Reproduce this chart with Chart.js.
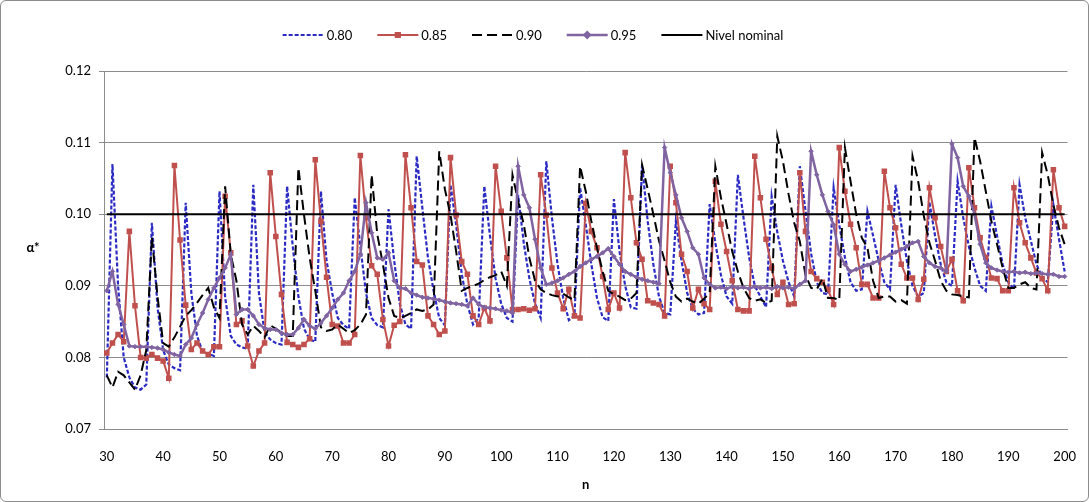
<!DOCTYPE html>
<html>
<head>
<meta charset="utf-8">
<script src="https://cdn.jsdelivr.net/npm/chart.js@4.4.1/dist/chart.umd.min.js"></script>
<style>
  html, body { margin: 0; padding: 0; background: #fff; }
  #frame { position: absolute; left: 0; top: 0; width: 1087px; height: 500px; border: 1px solid #8c8c8c; border-radius: 6px; overflow: hidden; }
  canvas { display: block; }
</style>
</head>
<body>
<div id="frame"><canvas id="chart" width="1087" height="500"></canvas></div>
<script>
  // sample sizes on the category axis
  var nFirst = 30, nLast = 200;
  var nValues = [];
  for (var n = nFirst; n <= nLast; n++) nValues.push(String(n));

  // actual level alpha* per n, one row per ten values of n (30-39, 40-49, ...)
  var alpha080 = [
    0.0772, 0.1070, 0.0900, 0.0800, 0.0772, 0.0758, 0.0755, 0.0762, 0.0988, 0.0870,
    0.0810, 0.0790, 0.0785, 0.0782, 0.1016, 0.0890, 0.0830, 0.0808, 0.0805, 0.0802,
    0.1032, 0.0884, 0.0830, 0.0818, 0.0814, 0.0812, 0.1041, 0.0890, 0.0835, 0.0825,
    0.0820, 0.0818, 0.1039, 0.0955, 0.0885, 0.0840, 0.0825, 0.0822, 0.1032, 0.0935,
    0.0890, 0.0855, 0.0845, 0.0840, 0.1023, 0.0955, 0.0890, 0.0855, 0.0845, 0.0842,
    0.1007, 0.0935, 0.0875, 0.0846, 0.0840, 0.1081, 0.1009, 0.0939, 0.0893, 0.0855,
    0.0845, 0.1041, 0.0985, 0.0916, 0.0874, 0.0846, 0.0855, 0.1039, 0.0970, 0.0910,
    0.0875, 0.0855, 0.0850, 0.1027, 0.0960, 0.0910, 0.0875, 0.0855, 0.1074, 0.0995,
    0.0930, 0.0883, 0.0852, 0.0858, 0.1037, 0.0986, 0.0930, 0.0883, 0.0856, 0.0851,
    0.1021, 0.0948, 0.0900, 0.0870, 0.0868, 0.1069, 0.0990, 0.0930, 0.0885, 0.0862,
    0.0860, 0.0990, 0.0935, 0.0890, 0.0868, 0.0860, 0.0862, 0.1014, 0.0960, 0.0915,
    0.0885, 0.0875, 0.1055, 0.0995, 0.0940, 0.0900, 0.0885, 0.0870, 0.1025, 0.0975,
    0.0935, 0.0905, 0.0885, 0.1067, 0.1005, 0.0945, 0.0905, 0.0890, 0.0888, 0.1037,
    0.0985, 0.0940, 0.0905, 0.0893, 0.0895, 0.1004, 0.0970, 0.0935, 0.0905, 0.0895,
    0.1041, 0.0985, 0.0935, 0.0900, 0.0885, 0.0890, 0.1017, 0.0970, 0.0930, 0.0905,
    0.0900, 0.1046, 0.0995, 0.0955, 0.0925, 0.0900, 0.0893, 0.1011, 0.0970, 0.0930,
    0.0905, 0.0895, 0.1041, 0.0995, 0.0963, 0.0930, 0.0912, 0.0905, 0.1013, 0.0965,
    0.0920
  ];

  var alpha085 = [
    0.0806, 0.0820, 0.0832, 0.0822, 0.0976, 0.0872, 0.0800, 0.0799, 0.0804, 0.0799,
    0.0795, 0.0771, 0.1068, 0.0964, 0.0873, 0.0811, 0.0820, 0.0809, 0.0804, 0.0815,
    0.0815, 0.1025, 0.0946, 0.0846, 0.0851, 0.0816, 0.0788, 0.0809, 0.0820, 0.1058,
    0.0969, 0.0888, 0.0821, 0.0818, 0.0814, 0.0818, 0.0826, 0.1076, 0.0990, 0.0912,
    0.0846, 0.0844, 0.0820, 0.0820, 0.0832, 0.1082, 0.0995, 0.0928, 0.0916, 0.0853,
    0.0816, 0.0845, 0.0850, 0.1083, 0.1009, 0.0934, 0.0929, 0.0858, 0.0846, 0.0832,
    0.0837, 0.1079, 0.0999, 0.0934, 0.0916, 0.0858, 0.0846, 0.0869, 0.0851, 0.1067,
    0.1004, 0.0939, 0.0867, 0.0867, 0.0868, 0.0866, 0.0868, 0.1055, 0.0999, 0.0925,
    0.0890, 0.0868, 0.0895, 0.0858, 0.0855, 0.1015, 0.0976, 0.0953, 0.0913, 0.0867,
    0.0890, 0.0869, 0.1086, 0.1023, 0.0960, 0.0937, 0.0879, 0.0876, 0.0874, 0.0858,
    0.1067, 0.1016, 0.0944, 0.0920, 0.0869, 0.0895, 0.0875, 0.0867, 0.1046, 0.0986,
    0.0948, 0.0907, 0.0867, 0.0865, 0.0865, 0.1081, 0.1023, 0.0965, 0.0925, 0.0888,
    0.0905, 0.0874, 0.0875, 0.1058, 0.0976, 0.0920, 0.0910, 0.0905, 0.0895, 0.0874,
    0.1093, 0.1032, 0.0986, 0.0953, 0.0902, 0.0902, 0.0883, 0.0883, 0.1060, 0.1009,
    0.0981, 0.0930, 0.0911, 0.0911, 0.0881, 0.0909, 0.1037, 0.0995, 0.0955, 0.0920,
    0.0937, 0.0893, 0.0879, 0.1065, 0.1009, 0.0967, 0.0940, 0.0911, 0.0910, 0.0893,
    0.0893, 0.1037, 0.0988, 0.0960, 0.0939, 0.0918, 0.0910, 0.0893, 0.1062, 0.1009,
    0.0983
  ];

  var alpha090 = [
    0.0775, 0.0758, 0.0780, 0.0775, 0.0765, 0.0755, 0.0775, 0.0810, 0.0968, 0.0885,
    0.0820, 0.0815, 0.0828, 0.0843, 0.0858, 0.0866, 0.0876, 0.0887, 0.0897, 0.0870,
    0.0855, 0.1039, 0.0944, 0.0907, 0.0846, 0.0832, 0.0844, 0.0837, 0.0828, 0.0845,
    0.0840, 0.0835, 0.0830, 0.0830, 0.1065, 0.0999, 0.0939, 0.0893, 0.0842, 0.0837,
    0.0839, 0.0846, 0.0840, 0.0834, 0.0838, 0.0846, 0.0860, 0.1055, 0.0972, 0.0930,
    0.0883, 0.0858, 0.0855, 0.0858, 0.0862, 0.0867, 0.0865, 0.0867, 0.0874, 0.1088,
    0.1035, 0.0999, 0.0948, 0.0893, 0.0897, 0.0900, 0.0903, 0.0908, 0.0912, 0.0915,
    0.0920, 0.0900, 0.1055, 0.1018, 0.0986, 0.0939, 0.0907, 0.0895, 0.0890, 0.0887,
    0.0885, 0.0889, 0.0884, 0.0880, 0.1067, 0.1032, 0.0990, 0.0953, 0.0920, 0.0893,
    0.0888, 0.0885, 0.0880, 0.0882, 0.0890, 0.1069, 0.1035, 0.1000, 0.0963, 0.0935,
    0.0905, 0.0885, 0.0878, 0.0882, 0.0878, 0.0875, 0.0882, 0.0890, 0.1067, 0.1023,
    0.0986, 0.0948, 0.0920, 0.0897, 0.0883, 0.0879, 0.0881, 0.0876, 0.0879, 0.1109,
    0.1074, 0.1028, 0.0988, 0.0962, 0.0915, 0.0897, 0.0895, 0.0910, 0.0883, 0.0883,
    0.0880, 0.1093, 0.1046, 0.1000, 0.0967, 0.0953, 0.0907, 0.0883, 0.0885, 0.0885,
    0.0878, 0.0880, 0.0875, 0.1081, 0.1046, 0.0998, 0.0960, 0.0935, 0.0907, 0.0893,
    0.0888, 0.0887, 0.0885, 0.0884, 0.1107, 0.1074, 0.1032, 0.0990, 0.0958, 0.0925,
    0.0897, 0.0897, 0.0902, 0.0905, 0.0897, 0.0895, 0.1086, 0.1055, 0.1013, 0.0981,
    0.0958
  ];

  var alpha095 = [
    0.0893, 0.0920, 0.0874, 0.0846, 0.0816, 0.0815, 0.0815, 0.0815, 0.0814, 0.0813,
    0.0811, 0.0807, 0.0804, 0.0802, 0.0818, 0.0827, 0.0846, 0.0862, 0.0881, 0.0897,
    0.0911, 0.0925, 0.0944, 0.0860, 0.0867, 0.0867, 0.0858, 0.0846, 0.0841, 0.0839,
    0.0839, 0.0834, 0.0832, 0.0832, 0.0841, 0.0853, 0.0844, 0.0840, 0.0848, 0.0858,
    0.0869, 0.0881, 0.0890, 0.0907, 0.0920, 0.0944, 0.1016, 0.0974, 0.0939, 0.0937,
    0.0946, 0.0907, 0.0897, 0.0896, 0.0890, 0.0887, 0.0884, 0.0883, 0.0882, 0.0880,
    0.0878, 0.0876, 0.0875, 0.0874, 0.0872, 0.0883, 0.0874, 0.0870, 0.0869, 0.0868,
    0.0866, 0.0865, 0.0862, 0.1067, 0.1027, 0.1009, 0.0965, 0.0925, 0.0902, 0.0904,
    0.0907, 0.0911, 0.0916, 0.0920, 0.0927, 0.0932, 0.0937, 0.0941, 0.0946, 0.0952,
    0.0941, 0.0930, 0.0920, 0.0916, 0.0912, 0.0909, 0.0907, 0.0905, 0.0903, 0.1093,
    0.1058, 0.1027, 0.0995, 0.0976, 0.0953, 0.0944, 0.0911, 0.0902, 0.0897, 0.0898,
    0.0896, 0.0899, 0.0897, 0.0898, 0.0896, 0.0899, 0.0897, 0.0898, 0.0896, 0.0899,
    0.0897, 0.0898, 0.0896, 0.0902, 0.0907, 0.1088, 0.1055, 0.1027, 0.1004, 0.0985,
    0.0944, 0.0930, 0.0920, 0.0923, 0.0926, 0.0929, 0.0932, 0.0935, 0.0939, 0.0943,
    0.0947, 0.0951, 0.0955, 0.0960, 0.0962, 0.0941, 0.0932, 0.0927, 0.0925, 0.0920,
    0.1098, 0.1079, 0.1039, 0.1025, 0.1000, 0.0958, 0.0932, 0.0925, 0.0922, 0.0920,
    0.0919, 0.0920, 0.0918, 0.0919, 0.0917, 0.0918, 0.0917, 0.0916, 0.0916, 0.0913,
    0.0913
  ];

  var nominalLevel = 0.10;
  var yMin = 0.07, yMax = 0.12, yStep = 0.01;

  var FONT = 'Lato, "Open Sans", "Liberation Sans", sans-serif';

  // legend row: a short sample of every series, drawn with its own stroke and marker
  var sampleLegend = {
    id: 'sampleLegend',
    afterDraw: function (chart) {
      var ctx = chart.ctx;
      var sets = chart.data.datasets;
      var swatch = 41, gapText = 3, gapItem = 25;
      ctx.save();
      ctx.font = '13px ' + FONT;
      var widths = sets.map(function (ds) {
        return swatch + gapText + ctx.measureText(ds.label).width;
      });
      var total = widths.reduce(function (a, b) { return a + b; }, 0) + gapItem * (sets.length - 1);
      var x = 532 - total / 2;
      var y = 34;
      sets.forEach(function (ds, i) {
        ctx.strokeStyle = ds.borderColor;
        ctx.lineWidth = ds.borderWidth;
        ctx.setLineDash(ds.borderDash || []);
        ctx.beginPath();
        ctx.moveTo(x, y);
        ctx.lineTo(x + swatch, y);
        ctx.stroke();
        ctx.setLineDash([]);
        if (ds.pointRadius > 0) {
          ctx.fillStyle = ds.pointBackgroundColor;
          ctx.strokeStyle = ds.pointBorderColor;
          Chart.helpers.drawPoint(ctx, {
            pointStyle: ds.pointStyle, rotation: 0,
            radius: ds.pointRadius + 0.5, borderWidth: 1
          }, x + swatch / 2, y);
        }
        ctx.fillStyle = '#000';
        ctx.textBaseline = 'middle';
        ctx.textAlign = 'left';
        ctx.fillText(ds.label, x + swatch + gapText, y + 1);
        x += widths[i] + gapItem;
      });
      ctx.restore();
    }
  };

  // horizontal value-axis title
  var sideTitle = {
    id: 'sideTitle',
    afterDraw: function (chart) {
      var ctx = chart.ctx;
      ctx.save();
      ctx.font = 'bold 13px ' + FONT;
      ctx.fillStyle = '#000';
      ctx.textAlign = 'center';
      ctx.textBaseline = 'middle';
      ctx.fillText('\u03b1*', 32, 247);
      ctx.restore();
    }
  };

  new Chart(document.getElementById('chart'), {
    type: 'line',
    data: {
      labels: nValues,
      datasets: [
        {
          label: '0.80', data: alpha080, order: 4,
          borderColor: '#2B2BC4', borderWidth: 2.2, borderDash: [4, 2],
          pointRadius: 0, pointHoverRadius: 0
        },
        {
          label: '0.85', data: alpha085, order: 3,
          borderColor: '#C0504D', borderWidth: 2,
          pointStyle: 'rect', pointRadius: 2.5,
          pointBackgroundColor: '#C0504D', pointBorderColor: '#C0504D'
        },
        {
          label: '0.90', data: alpha090, order: 2,
          borderColor: '#000000', borderWidth: 2, borderDash: [10, 5],
          pointRadius: 0, pointHoverRadius: 0
        },
        {
          label: '0.95', data: alpha095, order: 1,
          borderColor: '#8064A2', borderWidth: 2.5,
          pointStyle: 'rectRot', pointRadius: 2.2, pointBorderWidth: 1,
          pointBackgroundColor: '#8064A2', pointBorderColor: '#8064A2'
        },
        {
          label: 'Nivel nominal', data: nValues.map(function () { return nominalLevel; }), order: 0,
          borderColor: '#000000', borderWidth: 2,
          pointRadius: 0, pointHoverRadius: 0
        }
      ]
    },
    options: {
      responsive: false,
      animation: false,
      devicePixelRatio: 1,
      layout: { padding: { top: 70, right: 15, bottom: 8, left: 0 } },
      plugins: {
        legend: { display: false },
        tooltip: { enabled: false }
      },
      elements: { line: { tension: 0 } },
      scales: {
        x: {
          type: 'category',
          offset: true,
          grid: { display: false },
          border: { display: true, color: '#8c8c8c', width: 1 },
          ticks: {
            autoSkip: false, maxRotation: 0, minRotation: 0, padding: 12,
            color: '#000', font: { family: FONT, size: 13 },
            callback: function (v, i) { return Number(nValues[i]) % 10 === 0 ? nValues[i] : ''; }
          },
          title: {
            display: true, text: 'n', color: '#000',
            font: { family: FONT, size: 13, weight: 'bold' },
            padding: { top: 8, bottom: 0 }
          },
          afterFit: function (s) { s.height = 64; }
        },
        y: {
          min: yMin, max: yMax,
          grid: { color: '#8c8c8c', lineWidth: 1, drawTicks: true, tickLength: 5 },
          border: { display: true, color: '#8c8c8c', width: 1 },
          ticks: {
            stepSize: yStep, padding: 8, color: '#000',
            font: { family: FONT, size: 13 },
            callback: function (v) { return v.toFixed(2); }
          },
          afterFit: function (s) { s.width = 103; }
        }
      }
    },
    plugins: [sampleLegend, sideTitle]
  });
</script>
</body>
</html>
